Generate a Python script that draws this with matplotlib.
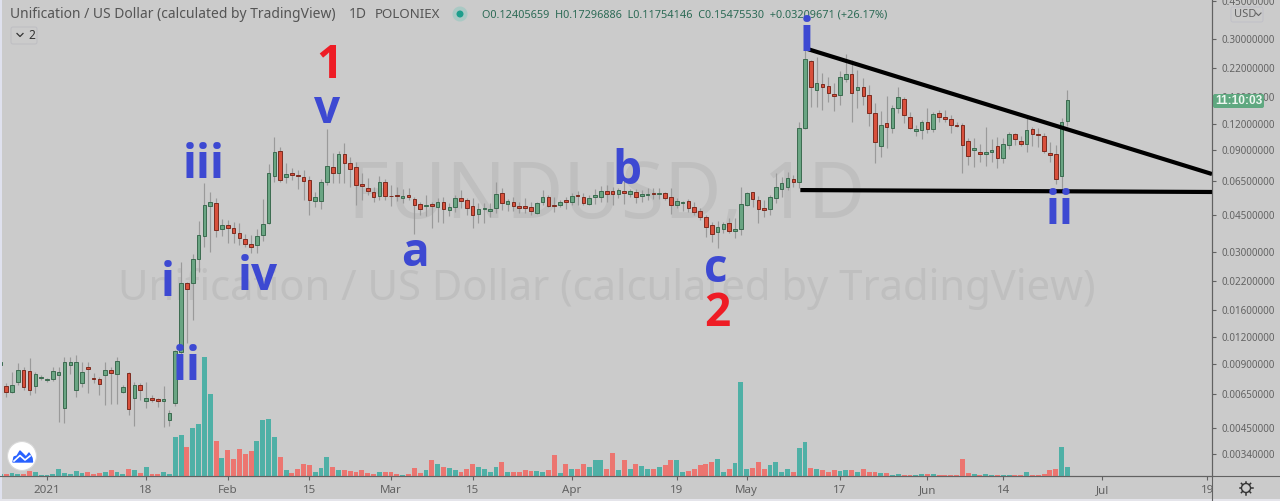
import matplotlib
matplotlib.use("Agg")
import matplotlib.pyplot as plt
from matplotlib.patches import Circle, FancyBboxPatch, Polygon, Rectangle
from matplotlib.ticker import NullLocator

# ---------------- data (daily candles, day 0 = 1 Jan 2021) ----------------
first_day = -8
opens = [.00888,.00709,.00664,.0074,.00842,.00833,.00709,.00773,.00756,.00764,.00798,.00559,.00888,.00679,.00732,.0087,.00773,.00764,.00798,.00842,.00807,.00664,.00815,.00623,.00717,.00603,.00623,.00616,.00603,.00491,.0059,.0102,.0215,.0215,.0279,.0357,.0494,.0511,.0386,.0403,.039,.0369,.0346,.0328,.0324,.0361,.0411,.0683,.0894,.0676,.0706,.0691,
         .0676,.0654,.0522,.0522,.064,.0753,.0706,.0866,.0786,.0753,.0627,.06,.0575,.0551,.064,.0551,.0557,.0539,.0557,.0533,.0505,.0494,.0505,.0489,.0516,.0473,.0489,.0539,.0527,.0494,.0453,.0478,.0468,.0484,.0569,.0505,.0516,.0494,.0494,.0489,.0458,.0516,.0545,.05,.05,.0527,.0516,.0557,
         .0545,.0505,.0545,.0545,.0581,.0581,.0563,.0581,.0563,.0575,.0551,.0557,.0569,.0563,.0569,.0545,.05,.0511,.0522,.0489,.0468,.0439,.0403,.0373,.0386,.0411,.0377,.0386,.05,.0572,.0527,.0484,.0478,.0539,.0594,.0607,.0661,.064,.1147,.2365,.1729,.1845,.1805,.1656,.1638,.1947,.2055,.1729,.1786,.1638,.1349,.0944,.1211,.1147,.1424,.1569,.1292,.111,.1122,.1224,.1135,.1349,.1292,.1264,.1185,.1185,.0996,.0904,.0885,.0866,.0885,.0944,.0829,.0954,.1075,.0996,.0964,.1135,.1075,.1052,.0875,.0866,.0683,.12405659]
highs = [.00918,.00732,.00824,.00908,.0087,.00958,.00824,.00798,.00773,.0087,.0087,.00968,.00968,.00989,.00918,.00918,.00815,.00781,.00918,.0087,.00968,.00717,.00824,.0074,.00732,.0074,.00643,.00623,.00709,.00547,.0104,.027,.0218,.0294,.042,.0633,.0575,.0539,.0429,.0425,.0416,.0411,.0365,.0361,.0386,.0533,.0777,.104,.0934,.0786,.0745,.0729,
         .0729,.0683,.0575,.0661,.1135,.0875,.0894,.0975,.0838,.0794,.0706,.0669,.0607,.0683,.0661,.062,.0607,.0594,.06,.0545,.0516,.0557,.0516,.0539,.0545,.0511,.0557,.0587,.0539,.0539,.0511,.0511,.0511,.064,.06,.0533,.0545,.0516,.0539,.0516,.0516,.0587,.0557,.0545,.0527,.0545,.0569,.0581,
         .0569,.0557,.0594,.0613,.062,.0607,.06,.0654,.0594,.0594,.0587,.06,.06,.06,.0575,.06,.0539,.0522,.0533,.0516,.0484,.0448,.0416,.042,.0416,.0434,.0434,.0607,.0575,.0575,.0551,.0527,.0557,.0706,.0676,.0713,.0691,.1224,.272,.2391,.247,.2078,.199,.1865,.2123,.2551,.2391,.2146,.1968,.1825,.1502,.1378,.162,.147,.1786,.1603,.1363,.1185,.125,.1424,.1363,.1393,.1393,.132,.1224,.1211,.1029,.1029,.0964,.1159,.1018,.104,.1029,.1098,.1086,.1052,.132,.1159,.1147,.1086,.0985,.0954,.1278,.17296886]
lows = [.00888,.0063,.00657,.00717,.00679,.00643,.00657,.00756,.0074,.00748,.00481,.00475,.00807,.0063,.00701,.00657,.00732,.00643,.00577,.00584,.00584,.00657,.00518,.0046,.00609,.00559,.00596,.00565,.00456,.0046,.00571,.00989,.0113,.0144,.0243,.0317,.0301,.0354,.0357,.0331,.0331,.0324,.0317,.0297,.0297,.0339,.0407,.064,.064,.0633,.0654,.0594,
        .0527,.0448,.0489,.0478,.062,.0633,.0633,.0633,.0607,.05,.0527,.0557,.0516,.0527,.0527,.0494,.0522,.0511,.0527,.0365,.0448,.0444,.039,.0416,.0411,.0444,.0463,.0484,.0448,.039,.0411,.0411,.0439,.0458,.0473,.0468,.0468,.0458,.0458,.0448,.0455,.05,.0489,.0463,.0489,.0478,.05,.05,
        .05,.05,.0505,.0516,.0516,.05,.0539,.0505,.0545,.0511,.0516,.0527,.0533,.0533,.0527,.0453,.0484,.0468,.0463,.0448,.0425,.0354,.0335,.0314,.0369,.0369,.035,.0361,.0494,.0489,.0411,.0439,.0448,.0511,.0545,.0587,.0607,.06,.114,.1439,.1439,.1393,.1519,.1378,.147,.1885,.1224,.1424,.147,.1172,.0786,.0838,.0924,.1086,.1349,.1211,.1135,.1052,.1018,.1086,.1098,.1224,.1224,.1086,.1159,.0706,.0769,.0753,.0794,.0761,.0794,.0745,.0786,.0914,.0954,.0944,.0885,.0944,.0934,.0875,.0794,.0627,.0569,.11754146]
closes = [.00918,.00664,.00717,.00842,.00701,.00679,.00807,.00781,.00764,.00833,.00824,.00918,.00918,.00918,.00824,.00851,.00764,.00724,.00842,.00815,.00928,.00701,.00553,.00717,.00679,.00623,.00609,.00603,.00616,.0053,.0103,.0215,.0202,.0279,.0361,.05,.0516,.0381,.0403,.039,.0369,.035,.0328,.0317,.0357,.0407,.0706,.0885,.0654,.0698,.0691,.0683,
          .0647,.0527,.0545,.064,.0761,.0706,.0866,.0786,.0737,.062,.0613,.0581,.0545,.064,.0551,.0548,.0551,.0551,.0545,.05,.0478,.05,.0494,.0516,.0478,.0489,.0539,.0522,.0484,.0448,.0478,.0484,.0478,.0563,.0511,.0522,.0494,.0484,.0484,.0468,.0511,.0545,.0494,.0494,.0516,.0516,.0551,.0548,
          .0511,.0539,.0557,.0581,.0563,.0563,.0587,.0569,.0581,.0545,.0563,.0563,.0563,.0569,.0539,.05,.0522,.0516,.0484,.0463,.0439,.0394,.0365,.0394,.0407,.0377,.0386,.0505,.0569,.0533,.0478,.0473,.0545,.0607,.0633,.0669,.064,.1147,.2417,.1786,.1865,.1786,.1674,.162,.199,.2055,.1674,.1786,.162,.1349,.0985,.1185,.1159,.1424,.1603,.132,.1147,.1135,.1224,.1135,.1334,.1292,.1264,.1185,.1172,.0954,.0847,.0924,.0866,.0885,.0904,.0829,.0964,.1075,.1018,.0964,.1122,.1075,.1063,.0894,.0856,.0661,.1224,.1547553]
volumes = [2,2,3,2,2,5,4,1,1,2,7,3,2,5,3,4,2,3,4,6,4,2,7,6,3,9,2,2,4,2,39,41,29,48,52,119,82,35,18,26,17,27,22,25,35,56,57,39,19,6,3,7,
           12,11,4,8,19,9,6,6,5,4,6,3,2,4,4,4,2,1,2,8,3,6,16,12,9,8,6,4,7,12,9,7,4,9,14,4,4,4,6,5,5,4,6,21,3,12,7,7,
           12,9,16,16,7,23,6,16,7,12,10,7,7,9,11,16,16,4,5,7,11,12,14,17,4,7,13,94,7,8,14,
           7,11,14,4,7,4,28,34,8,7,6,4,6,5,6,6,4,7,4,4,3,3,1,2,1,1,1,2,2,2,1,1,1,1,17,3,2,1,2,1,1,1,1,1,1,4,1,1,2,6,7,29,9]
days = list(range(first_day, first_day + len(closes)))

date_ticks = [0, 17, 31, 45, 59, 73, 90, 108, 120, 136, 151, 164, 181, 199]
date_labels = ["2021", "18", "Feb", "15", "Mar", "15", "Apr", "19", "May", "17", "Jun", "14", "Jul", "19"]
price_ticks = [.45, .30, .22, .16, .12, .09, .065, .045, .03, .022, .016, .012, .009, .0065, .0045, .0034]

upper_line_days, upper_line_prices = [130.4, 199.8], [.2693, .0698]
lower_line_days, lower_line_prices = [129.2, 199.8], [.0587, .0575]

title = "Unification / US Dollar (calculated by TradingView)"
ohlc_text = "O0.12405659  H0.17296886  L0.11754146  C0.15475530  +0.03209671 (+26.17%)"

# ---------------- style ----------------
BG = "#cbcbcb"
UP_F, UP_E, DN_F, DN_E = "#6aa583", "#3c6b50", "#d8503c", "#7c2c20"
VOL_UP, VOL_DN = "#4fb0a6", "#ec7570"
WICK = "#9a9a9a"
TXT = "#626262"
BLUE = "#3d49d2"
RED = "#ee1c25"
W, H = 1280, 501
UIFONT = "Noto Sans"

fig = plt.figure(figsize=(W / 100, H / 100), dpi=100, facecolor=BG)
rect = [0, 25 / H, 1212 / W, 476 / H]

# layers, bottom to top: price axes, watermark, volume, candles, annotations
ax = fig.add_axes(rect, facecolor=BG, zorder=0.5)
wm_ax = fig.add_axes([0, 0, 1, 1], facecolor="none", zorder=1)
vol = fig.add_axes(rect, facecolor="none", zorder=1.5, sharex=ax)
cand = fig.add_axes(rect, facecolor="none", zorder=1.7, sharex=ax)
over = fig.add_axes([0, 0, 1, 1], facecolor="none", zorder=3)
for a in (wm_ax, over):
    a.set_xlim(0, W); a.set_ylim(H, 0); a.axis("off")

ax.set_yscale("log")
ax.set_ylim(0.00268, 0.4568)
ax.set_xlim(-8.06, 199.8)
ax.yaxis.tick_right()
ax.set_yticks(price_ticks)
ax.set_yticklabels([f"{p:.8f}" for p in price_ticks], fontsize=7.1, color=TXT, family=UIFONT)
ax.yaxis.set_minor_locator(NullLocator())
ax.tick_params(axis="y", length=3.2, width=0.8, color=TXT, pad=3.5)
ax.tick_params(axis="x", length=2.8, width=0.8, color=TXT, pad=4)
ax.set_xticks(date_ticks)
ax.set_xticklabels(date_labels, fontsize=8.3, color=TXT, family=UIFONT)
ax.get_xticklabels()[0].set_fontweight("bold")
for s in ("top", "left"):
    ax.spines[s].set_visible(False)
for s in ("right", "bottom"):
    ax.spines[s].set_color(TXT); ax.spines[s].set_linewidth(0.8)

# watermark
wm = "#bfbfbf"
wm_ax.text(607, 197, "FUNDUSD, 1D", fontsize=56.6, color=wm, ha="center", va="center", family=UIFONT)
wm_ax.text(607, 289, title, fontsize=30.1, color=wm, ha="center", va="center", family=UIFONT)

# volume
vol.bar(days, volumes, width=0.84,
        color=[VOL_UP if c >= o else VOL_DN for o, c in zip(opens, closes)], linewidth=0)
vol.set_ylim(0, 476)
vol.axis("off")

# candles
cand.set_yscale("log")
cand.set_ylim(ax.get_ylim())
cand.axis("off")
cand.vlines(days, lows, highs, color=WICK, linewidth=0.85, zorder=1)
for d, o, c in zip(days, opens, closes):
    up = c >= o
    cand.bar(d, abs(c - o), bottom=min(o, c), width=0.62, color=UP_F if up else DN_F,
             edgecolor=UP_E if up else DN_E, linewidth=0.7, zorder=2)
cand.plot(upper_line_days, upper_line_prices, color="black", lw=3.0, solid_capstyle="butt", zorder=3)
cand.plot(lower_line_days, lower_line_prices, color="black", lw=3.0, solid_capstyle="butt", zorder=3)

# frame lines outside the axes
over.plot([1212, 1212], [0, 501], color=TXT, lw=0.8)
over.plot([0, 1280], [476, 476], color=TXT, lw=0.8)
over.add_patch(Rectangle((0, 0), 2, 501, color="#dfe1ee", lw=0))
over.add_patch(Rectangle((0, 499), 1280, 2, color="#e4e4ea", lw=0))

# header
hdr = dict(fontsize=10.0, color="#555555", va="center", family=UIFONT)
over.text(10, 14, title, **hdr)
over.text(349, 14, "1D", **hdr)
over.text(375, 14, "POLONIEX", fontsize=9.6, color="#555555", va="center", family=UIFONT)
over.add_patch(Circle((460, 14), 7.5, color="#a9c9c4", lw=0))
over.add_patch(Circle((460, 14), 3.5, color="#1e9e8c", lw=0))
over.text(482, 15, ohlc_text, fontsize=7.85, color="#2c6a55", va="center", family=UIFONT)
over.add_patch(FancyBboxPatch((11, 27), 26, 17, boxstyle="round,pad=0,rounding_size=2",
                              fc="none", ec="#bdbdc2", lw=0.7))
over.plot([17, 20, 23], [33.5, 36.5, 33.5], color="#333333", lw=0.9)
over.text(28, 35, "2", fontsize=8.6, color="#333333", va="center", family=UIFONT)

# price axis extras
over.add_patch(FancyBboxPatch((1231, 7), 32, 15, boxstyle="round,pad=0,rounding_size=2",
                              fc=BG, ec="#c0c0c8", lw=0.7))
over.text(1234, 14.5, "USD", fontsize=8, color=TXT, va="center", family=UIFONT)
over.plot([1256, 1258.5, 1261], [13, 15.5, 13], color=TXT, lw=0.8)
over.add_patch(FancyBboxPatch((1213, 94), 51, 14, boxstyle="round,pad=0,rounding_size=2",
                              fc="#5fa880", ec="none"))
over.text(1239, 101, "11:10:03", fontsize=8.6, color="#eef6f0", fontweight="bold",
          ha="center", va="center", family="Liberation Sans")

# logo
over.add_patch(Circle((22, 456), 14.5, color="white", ec="#d8d8d8", lw=0.8))
over.add_patch(Polygon([(13, 462), (14, 457), (17, 456), (20, 451), (24, 455), (26, 457), (29, 453), (32, 458), (32.5, 462)],
                       closed=True, fc="#2962ff", ec="#2962ff", lw=1, joinstyle="round"))
over.plot([14, 20, 25, 30], [461, 455.5, 460, 456], color="white", lw=1.2)

# gear
over.add_patch(Circle((1246, 488), 4.5, fc="none", ec="#333333", lw=1.0))
for dx, dy in [(0, 6.5), (0, -6.5), (6.5, 0), (-6.5, 0), (4.6, 4.6), (-4.6, 4.6), (4.6, -4.6), (-4.6, -4.6)]:
    over.plot([1246 + dx * .7, 1246 + dx], [488 + dy * .7, 488 + dy], color="#333333", lw=1.1)

# wave labels
wave = dict(ha="center", va="center", family="Open Sans", fontweight="bold", zorder=10)
for (x, y, s, col, size) in [
    (329, 65, "1", RED, 33), (327, 110, "v", BLUE, 33), (204, 166, "iii", BLUE, 33),
    (168, 284, "i", BLUE, 33), (187, 367, "ii", BLUE, 33), (258, 278, "iv", BLUE, 33),
    (415, 253, "a", BLUE, 33), (627, 171, "b", BLUE, 33), (716, 269, "c", BLUE, 33),
    (717, 313, "2", RED, 33), (807, 38, "i", BLUE, 33), (1060, 211, "ii", BLUE, 33)]:
    over.text(x, y, s, color=col, fontsize=size, **wave)

fig.savefig("out.png", dpi=100, facecolor=BG)
